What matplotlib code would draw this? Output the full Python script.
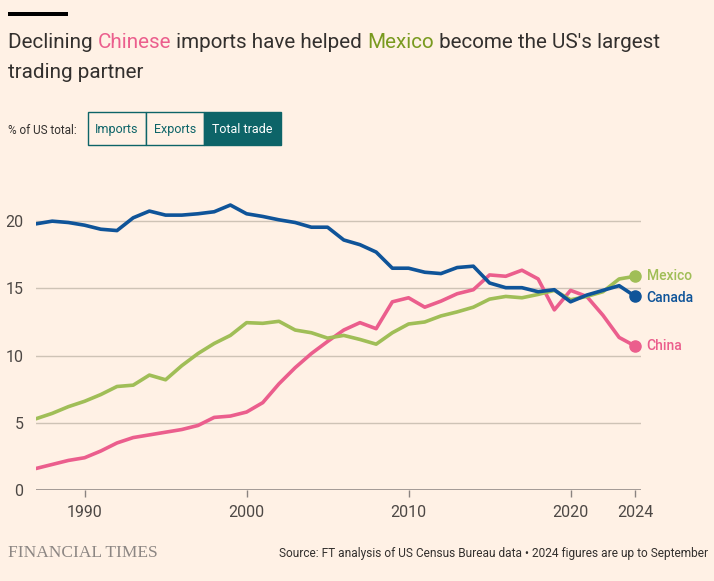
import matplotlib
matplotlib.use("Agg")
import matplotlib.pyplot as plt
from matplotlib.patches import Rectangle

years = list(range(1987, 2025))

canada = [19.8, 20.0, 19.9, 19.7, 19.4, 19.3, 20.25, 20.75, 20.45, 20.45,
          20.55, 20.7, 21.2, 20.55, 20.35, 20.1, 19.9, 19.55, 19.55, 18.6,
          18.25, 17.7, 16.5, 16.5, 16.2, 16.1, 16.55, 16.65, 15.4, 15.05,
          15.05, 14.75, 14.9, 14.0, 14.5, 14.85, 15.2, 14.4]

mexico = [5.3, 5.7, 6.2, 6.6, 7.1, 7.7, 7.8, 8.55, 8.2, 9.25,
          10.15, 10.9, 11.5, 12.45, 12.4, 12.55, 11.9, 11.7, 11.3, 11.5,
          11.2, 10.85, 11.7, 12.35, 12.5, 12.95, 13.25, 13.6, 14.2, 14.4,
          14.3, 14.55, 14.85, 14.15, 14.4, 14.75, 15.7, 15.9]

china = [1.6, 1.9, 2.2, 2.4, 2.9, 3.5, 3.9, 4.1, 4.3, 4.5,
         4.8, 5.4, 5.5, 5.8, 6.5, 7.9, 9.1, 10.15, 11.05, 11.9,
         12.45, 12.0, 14.0, 14.3, 13.6, 14.05, 14.6, 14.9, 16.0, 15.9,
         16.35, 15.7, 13.4, 14.85, 14.4, 13.0, 11.35, 10.7]

x_ticks = [1990, 2000, 2010, 2020, 2024]
y_ticks = [0, 5, 10, 15, 20]

BG = "#FFF1E5"
TXT = "#33302E"
PINK = "#EB5E8D"
GREEN = "#A0BE57"
GREEN_DARK = "#799A1F"
BLUE = "#0F5499"
TEAL = "#0D6468"

plt.rcParams["font.family"] = ["Roboto", "DejaVu Sans"]

W, H = 714, 581
fig = plt.figure(figsize=(W / 100, H / 100), dpi=100, facecolor=BG)


def px(x, y):
    # pixel coords (top-left origin) -> figure fraction
    return x / W, 1 - y / H


# axes placement
left, right, bottom, top = 36, 641, 490, 201
ax = fig.add_axes([left / W, 1 - bottom / H, (right - left) / W, (bottom - top) / H])
ax.set_facecolor(BG)
ax.set_xlim(1987, 2024.35)
ax.set_ylim(0, 21.5)

for v in y_ticks[1:]:
    ax.axhline(v, color="#CEC3B6", lw=1, zorder=1)
ax.axhline(0, color="#8A8380", lw=1.1, zorder=2)

ax.plot(years, china, color=PINK, lw=2.6, solid_capstyle="round", zorder=3)
ax.plot(years, mexico, color=GREEN, lw=2.6, solid_capstyle="round", zorder=4)
ax.plot(years, canada, color=BLUE, lw=2.6, solid_capstyle="round", zorder=5)

for s, c in [(china, PINK), (mexico, GREEN), (canada, BLUE)]:
    ax.plot(years[-1], s[-1], "o", color=c, ms=8, zorder=6, clip_on=False)

ax.text(2024.7, mexico[-1], "Mexico", color=GREEN, fontsize=10, fontweight="medium",
        va="center", ha="left")
ax.text(2024.7, canada[-1] - 0.15, "Canada", color=BLUE, fontsize=10, fontweight="medium",
        va="center", ha="left")
ax.text(2024.7, china[-1], "China", color=PINK, fontsize=10, fontweight="medium",
        va="center", ha="left")

for sp in ax.spines.values():
    sp.set_visible(False)

ax.set_yticks(y_ticks)
ax.set_yticklabels([str(v) for v in y_ticks])
ax.tick_params(axis="y", length=0, pad=9, labelsize=11.5, labelcolor="#4D4845")
ax.set_xticks(x_ticks)
ax.set_xticklabels([str(v) for v in x_ticks])
ax.tick_params(axis="x", length=5, width=1, color="#8A8380", pad=6,
               labelsize=11.5, labelcolor="#4D4845")

# black bar on top
fig.patches.append(Rectangle(px(8, 16), 60 / W, 4 / H, transform=fig.transFigure,
                             facecolor="black", edgecolor="none"))

# title with coloured words
tsize = 14.9
x0, y0 = px(8, 43)
t = fig.text(x0, y0, "Declining ", fontsize=tsize, color=TXT, va="center", ha="left")
fig.canvas.draw()
r = fig.canvas.get_renderer()


def cont(prev, s, col):
    bb = prev.get_window_extent(renderer=r)
    xf = bb.x1 / fig.bbox.width
    return fig.text(xf, y0, s, fontsize=tsize, color=col, va="center", ha="left")


t = cont(t, "Chinese", PINK)
t = cont(t, " imports have helped ", TXT)
t = cont(t, "Mexico", GREEN_DARK)
t = cont(t, " become the US's largest", TXT)
fig.text(*px(8, 72), "trading partner", fontsize=tsize, color=TXT, va="center", ha="left")

# button group
fig.text(*px(8, 130), "% of US total:", fontsize=8.5, color=TXT, va="center", ha="left")
btns = [("Imports", 88, 146), ("Exports", 146, 204), ("Total trade", 204, 281)]
for label, a, b in btns:
    active = label == "Total trade"
    fig.patches.append(Rectangle(px(a, 145), (b - a) / W, 33 / H, transform=fig.transFigure,
                                 facecolor=TEAL if active else BG, edgecolor=TEAL, lw=1))
    fig.text(*px((a + b) / 2, 129), label, fontsize=9,
             color="white" if active else TEAL, va="center", ha="center")

# footer
fig.text(*px(8, 553), "FINANCIAL TIMES", family="Liberation Serif", fontsize=12.5,
         color="#8C8683", va="center", ha="left")
fig.text(*px(708, 553), "Source: FT analysis of US Census Bureau data \u2022 2024 figures are up to September",
         fontsize=8.6, color=TXT, va="center", ha="right")

fig.savefig("out.png", dpi=100, facecolor=BG)
